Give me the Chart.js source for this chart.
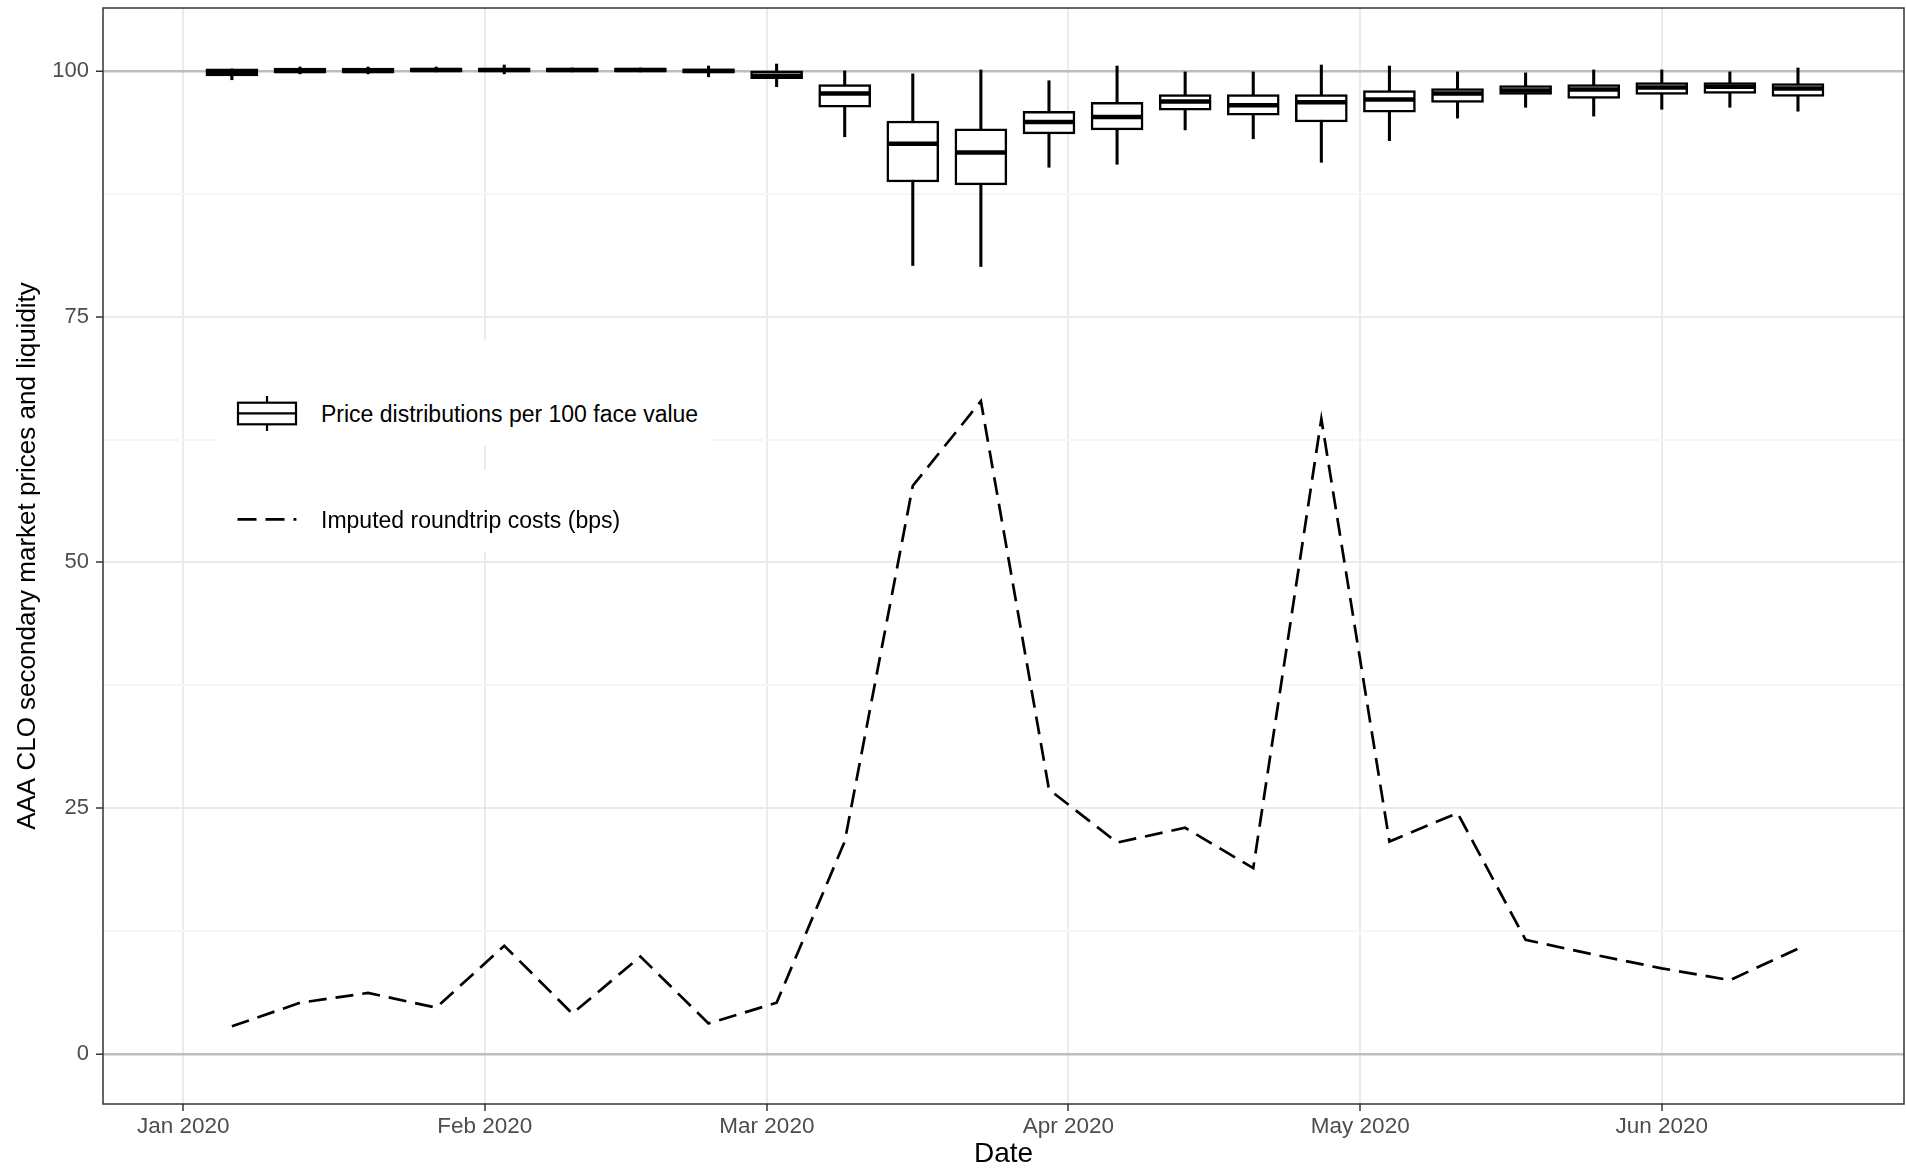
<!DOCTYPE html>
<html>
<head>
<meta charset="utf-8">
<script src="https://cdn.jsdelivr.net/npm/chart.js@4.4.1/dist/chart.umd.min.js"></script>
<style>
  body { margin: 0; background: #fff; }
  #wrap { position: relative; width: 1906px; height: 1168px; }
  .key { position: absolute; background: #fff; font-family: 'Liberation Sans', Arial, sans-serif; font-size: 23px; color: #000; }
  .key svg { position: absolute; }
  .key span { position: absolute; white-space: nowrap; line-height: 1; }
</style>
</head>
<body>
<div id="wrap">
  <canvas id="cloChart" width="1906" height="1168"></canvas>

  <div class="key" style="left:216px; top:340px; width:495px; height:106px;">
    <svg style="left:20px; top:54px" width="64" height="40">
      <line x1="31" y1="2" x2="31" y2="37" stroke="#000" stroke-width="2.2"/>
      <rect x="2" y="8.7" width="58" height="21.6" fill="#fff" stroke="#000" stroke-width="2.2"/>
      <line x1="2" y1="19.3" x2="60" y2="19.3" stroke="#000" stroke-width="2.2"/>
    </svg>
    <span id="boxKeyText" style="left:105px; top:63px;"></span>
  </div>

  <div class="key" style="left:216px; top:470px; width:390px; height:82px;">
    <svg style="left:20px; top:39px" width="64" height="20">
      <line x1="1.5" y1="10.3" x2="60.4" y2="10.3" stroke="#000" stroke-width="2.7" stroke-dasharray="19,9"/>
    </svg>
    <span id="lineKeyText" style="left:105px; top:39px;"></span>
  </div>
</div>

<script>
// weekly observation dates (Mondays)
const weekDates = [
  '2020-01-06', '2020-01-13', '2020-01-20', '2020-01-27', '2020-02-03', '2020-02-10',
  '2020-02-17', '2020-02-24', '2020-03-02', '2020-03-09', '2020-03-16', '2020-03-23',
  '2020-03-30', '2020-04-06', '2020-04-13', '2020-04-20', '2020-04-27', '2020-05-04',
  '2020-05-11', '2020-05-18', '2020-05-25', '2020-06-01', '2020-06-08', '2020-06-15'
];

// AAA CLO price distributions per 100 face value
const boxMin    = [99.1, 99.7, 99.7, 99.9, 99.7, 99.9, 99.9, 99.4, 98.4, 93.3, 80.2, 80.1, 90.2, 90.5, 94.0, 93.1, 90.7, 92.9, 95.2, 96.3, 95.4, 96.1, 96.3, 95.9];
const boxQ1     = [99.5, 99.8, 99.8, 99.9, 99.9, 99.9, 99.9, 99.8, 99.2, 96.3, 88.7, 88.4, 93.6, 94.0, 96.0, 95.5, 94.8, 95.8, 96.8, 97.6, 97.2, 97.6, 97.7, 97.4];
const boxMedian = [99.8, 100.0, 100.0, 100.1, 100.1, 100.1, 100.1, 100.0, 99.5, 97.7, 92.6, 91.7, 94.8, 95.3, 96.9, 96.5, 96.8, 97.1, 97.7, 98.0, 98.1, 98.3, 98.4, 98.2];
const boxQ3     = [100.2, 100.3, 100.3, 100.3, 100.3, 100.3, 100.3, 100.2, 100.0, 98.6, 94.9, 94.1, 95.9, 96.8, 97.6, 97.6, 97.6, 98.0, 98.2, 98.5, 98.6, 98.8, 98.8, 98.7];
const boxMax    = [100.2, 100.4, 100.4, 100.4, 100.6, 100.3, 100.3, 100.5, 100.7, 100.0, 99.7, 100.1, 99.0, 100.5, 99.9, 99.9, 100.6, 100.5, 99.9, 99.8, 100.1, 100.1, 99.9, 100.3];

// imputed roundtrip costs (bps)
const roundtripCosts = [2.8, 5.2, 6.2, 4.7, 11.0, 4.1, 9.9, 3.1, 5.2, 21.6, 57.8, 66.4, 26.9, 21.5, 23.0, 18.9, 64.6, 21.6, 24.5, 11.6, 10.1, 8.7, 7.5, 10.7];

// axes
const monthTickDates = ['2020-01-01', '2020-02-01', '2020-03-01', '2020-04-01', '2020-05-01', '2020-06-01'];
const monthLabels = ['Jan 2020', 'Feb 2020', 'Mar 2020', 'Apr 2020', 'May 2020', 'Jun 2020'];
const yGridValues = [0, 12.5, 25, 37.5, 50, 62.5, 75, 87.5, 100];
const yLabelValues = [0, 25, 50, 75, 100];
const yTitle = 'AAA CLO secondary market prices and liquidity';
const xTitle = 'Date';
const boxLegendLabel = 'Price distributions per 100 face value';
const lineLegendLabel = 'Imputed roundtrip costs (bps)';

document.getElementById('boxKeyText').textContent = boxLegendLabel;
document.getElementById('lineKeyText').textContent = lineLegendLabel;

// days since 1 Jan 2020
const origin = Date.UTC(2020, 0, 1);
const toDay = s => (new Date(s + 'T00:00:00Z').getTime() - origin) / 86400000;
const weekDays = weekDates.map(toDay);
const monthDays = monthTickDates.map(toDay);

const fontFamily = "'Liberation Sans', Arial, Helvetica, sans-serif";

// no extra room for the outer tick labels, the panel fills the canvas
const noLabelPadding = s => {
  s.paddingTop = 0;
  s.paddingBottom = 0;
  s.paddingLeft = 0;
  s.paddingRight = 0;
};

const panelBorder = {
  id: 'panelBorder',
  afterDraw(chart) {
    const { ctx, chartArea: a } = chart;
    ctx.save();
    ctx.strokeStyle = '#333333';
    ctx.lineWidth = 1.5;
    ctx.strokeRect(a.left, a.top, a.right - a.left, a.bottom - a.top);
    ctx.restore();
  }
};

const ctx = document.getElementById('cloChart').getContext('2d');

new Chart(ctx, {
  type: 'bar',
  data: {
    datasets: [
      {
        label: 'whiskers',
        data: weekDays.map((d, i) => ({ x: d, y: [boxMin[i], boxMax[i]] })),
        backgroundColor: '#000',
        borderWidth: 0,
        barThickness: 2.4,
        grouped: false,
        order: 4
      },
      {
        label: boxLegendLabel,
        data: weekDays.map((d, i) => ({ x: d, y: [boxQ1[i], boxQ3[i]] })),
        backgroundColor: '#fff',
        borderColor: '#000',
        borderWidth: 2.5,
        borderSkipped: false,
        barThickness: 52,
        grouped: false,
        order: 3
      },
      {
        type: 'line',
        label: 'median',
        data: weekDays.map((d, i) => ({ x: d, y: boxMedian[i] })),
        showLine: false,
        pointStyle: 'line',
        pointRadius: 25.5,
        pointHoverRadius: 25.5,
        pointBorderWidth: 4.5,
        pointBorderColor: '#000',
        order: 2
      },
      {
        type: 'line',
        label: lineLegendLabel,
        data: weekDays.map((d, i) => ({ x: d, y: roundtripCosts[i] })),
        borderColor: '#000',
        borderWidth: 2.7,
        borderDash: [18, 9],
        pointRadius: 0,
        tension: 0,
        fill: false,
        order: 1
      }
    ]
  },
  options: {
    responsive: false,
    devicePixelRatio: 1,
    animation: false,
    layout: { autoPadding: false, padding: { top: 8, right: 2, left: 0, bottom: 0 } },
    plugins: {
      legend: { display: false },
      tooltip: { enabled: false }
    },
    scales: {
      x: {
        type: 'linear',
        min: -8.25,
        max: 176.9,
        offset: false,
        afterBuildTicks: s => { s.ticks = monthDays.map(v => ({ value: v })); },
        afterFit: s => { s.height = 64; noLabelPadding(s); },
        ticks: {
          callback: (v, i) => monthLabels[i],
          autoSkip: false,
          maxRotation: 0,
          color: '#4d4d4d',
          font: { family: fontFamily, size: 22.5 },
          padding: 2
        },
        grid: { offset: false, color: '#ebebeb', lineWidth: 2, tickLength: 7, tickColor: '#333', tickWidth: 1.5 },
        border: { display: false },
        title: {
          display: true, text: xTitle, color: '#000',
          font: { family: fontFamily, size: 28, lineHeight: 1 },
          padding: { top: 0, bottom: 0 }
        }
      },
      y: {
        min: -5.1,
        max: 106.4,
        afterBuildTicks: s => { s.ticks = yGridValues.map(v => ({ value: v })); },
        afterFit: s => { s.width = 103; noLabelPadding(s); },
        ticks: {
          callback: v => yLabelValues.includes(v) ? String(v) : '',
          autoSkip: false,
          color: '#4d4d4d',
          font: { family: fontFamily, size: 22 },
          padding: 7
        },
        grid: {
          color: c => {
            const v = c.tick ? c.tick.value : null;
            if (v === 0 || v === 100) return '#bdbdbd';
            return yLabelValues.includes(v) ? '#ebebeb' : '#f6f6f6';
          },
          lineWidth: c => (c.tick && (c.tick.value === 0 || c.tick.value === 100)) ? 2.5 : 2,
          tickLength: 7,
          tickColor: c => (c.tick && yLabelValues.includes(c.tick.value)) ? '#333' : 'rgba(0,0,0,0)',
          tickWidth: 1.5
        },
        border: { display: false },
        title: {
          display: true, text: yTitle, color: '#000',
          font: { family: fontFamily, size: 26 },
          padding: { top: 12, bottom: 0 }
        }
      }
    }
  },
  plugins: [panelBorder]
});
</script>
</body>
</html>
